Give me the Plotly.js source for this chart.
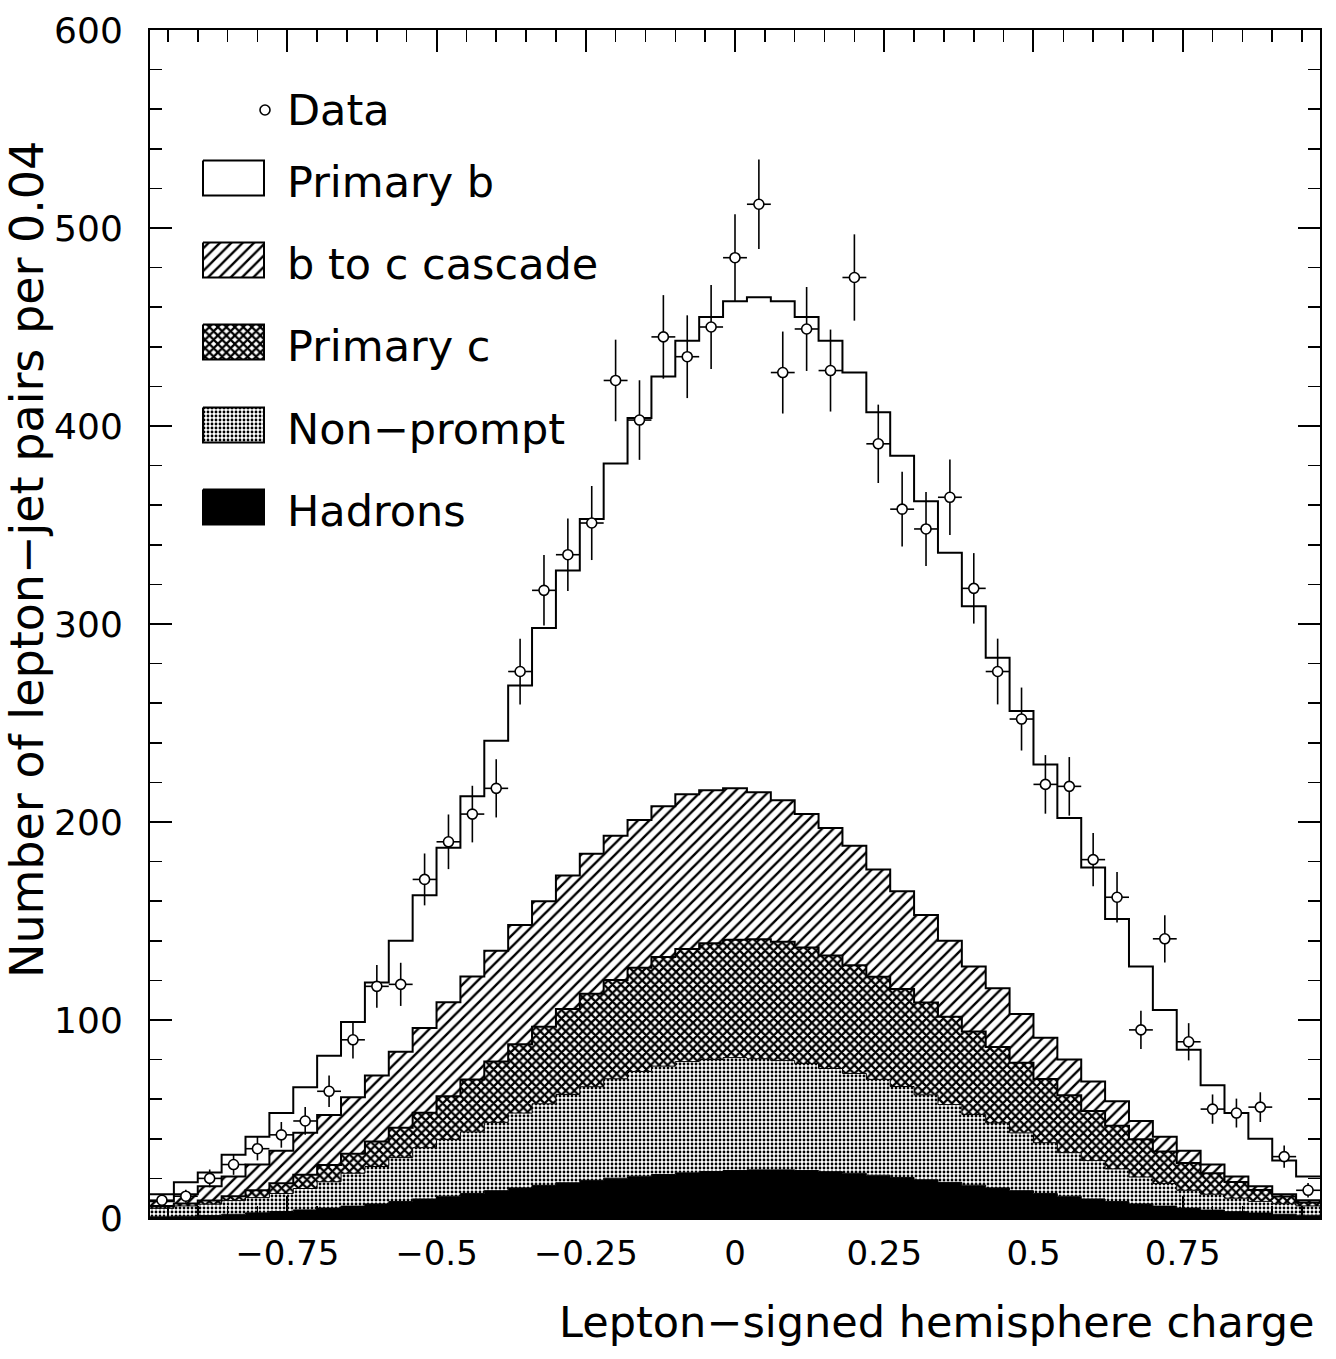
<!DOCTYPE html>
<html><head><meta charset="utf-8">
<script src="https://cdn.plot.ly/plotly-3.0.1.min.js"></script>
<style>html,body{margin:0;padding:0;background:#fff}#chart{width:1336px;height:1359px}</style>
</head><body><div id="chart"></div>
<script>
// ---- data ----
const binCenter = [-0.96,-0.92,-0.88,-0.84,-0.80,-0.76,-0.72,-0.68,-0.64,-0.60,-0.56,-0.52,-0.48,-0.44,-0.40,-0.36,-0.32,-0.28,-0.24,-0.20,-0.16,-0.12,-0.08,-0.04,0.00,0.04,0.08,0.12,0.16,0.20,0.24,0.28,0.32,0.36,0.40,0.44,0.48,0.52,0.56,0.60,0.64,0.68,0.72,0.76,0.80,0.84,0.88,0.92,0.96];
const binWidth = 0.04;
const hadrons   = [0.6,0.9,1.3,1.9,2.6,3.3,4.1,5.0,6.0,7.1,8.3,9.6,11.0,12.4,13.8,15.2,16.5,17.8,19.0,20.1,21.1,22.0,22.8,23.5,24.0,24.3,24.3,24.0,23.4,22.6,21.6,20.5,19.3,18.0,16.6,15.2,13.8,12.4,11.0,9.6,8.3,7.1,6.0,5.0,4.0,3.2,2.5,1.9,1.4];
const nonPrompt = [4.3,5.2,5.7,6.9,7.7,9.1,10.8,13.3,16.6,18.9,22.2,25.9,28.7,31.1,34.5,37.8,41.2,44.6,47.3,50.2,52.9,54.7,56.2,56.5,57.0,56.1,55.2,54.0,52.1,50.4,48.4,45.9,42.9,39.3,35.7,32.8,29.2,25.6,22.0,19.4,16.5,13.6,11.4,9.0,8.0,6.8,5.9,5.3,4.7];
const primaryC  = [1.1,1.2,1.8,2.2,3.7,5.1,6.9,8.5,9.8,12.6,15.1,17.7,21.8,26.5,30.7,34.8,38.9,43.1,47.0,49.9,52.4,55.1,56.8,58.8,59.5,60.4,60.0,58.6,57.1,54.6,51.8,49.2,46.6,44.3,41.9,38.4,35.4,32.2,29.0,25.0,21.8,19.1,16.2,13.8,10.6,8.2,5.8,3.6,1.7];
const cascade   = [2.5,4.7,7.2,10.0,13.0,16.5,21.2,25.2,28.6,33.4,38.4,42.8,47.5,52.0,56.0,60.2,63.4,67.5,70.7,72.8,74.6,76.2,78.2,77.2,76.5,74.2,71.5,67.4,64.4,60.4,54.2,49.4,44.2,38.4,32.8,29.6,24.6,20.8,18.0,15.0,12.4,9.2,7.4,6.2,4.4,2.8,1.8,1.2,1.2];
const primaryB  = [3.5,6,7,11,14,19,23,30,38,47,56,67,78,91,106,121,138,154,169,188,203,217,229,239,246,250,252,251,246,239,231,220,209,196,182,167,153,138,122,108,92,78,64,51,40,32,24,17,12];
const dataCounts = [9,11,20,27,35,42,49,64,90,117,118,171,190,204,217,276,317,335,351,423,403,445,435,450,485,512,427,449,428,475,391,358,348,364,318,276,252,219,218,181,162,95,141,89,55,53,56,31,14];
const dataErrors = [3,3.3,4.5,5.2,5.9,6.5,7,8,9.5,10.8,10.9,13.1,13.8,14.3,14.7,16.6,17.8,18.3,18.7,20.6,20.1,21.1,20.9,21.2,22,22.6,20.7,21.2,20.7,21.8,19.8,18.9,18.7,19.1,17.8,16.6,15.9,14.8,14.8,13.5,12.7,9.7,11.9,9.4,7.4,7.3,7.5,5.6,3.7];
const xTickVals = [-0.75,-0.5,-0.25,0,0.25,0.5,0.75];
const xTickText = ['\u22120.75','\u22120.5','\u22120.25','0','0.25','0.5','0.75'];
const yTickVals = [0,100,200,300,400,500,600];
const yTickText = ['0','100','200','300','400','500','600'];
const legendLabels = ['Data','Primary b','b to c cascade','Primary c','Non\u2212prompt','Hadrons'];

// ---- derived ----
const layers = [hadrons, nonPrompt, primaryC, cascade, primaryB];
const tops = [];
let run = binCenter.map(()=>0);
layers.forEach(l => { run = run.map((v,i)=>v+l[i]); tops.push(run.slice()); });
const edges = binCenter.map(c=>c-binWidth/2).concat([binCenter[binCenter.length-1]+binWidth/2]);
const stepY = v => v.concat([v[v.length-1]]);

const F = 'DejaVu Sans, Verdana, sans-serif';
const styles = [
  {fill:'tozeroy', fillcolor:'black', lw:1},
  {fill:'tonexty', fillcolor:'white', pattern:{shape:'.', size:4, solidity:0.4, fgcolor:'black', bgcolor:'white'}, lw:1},
  {fill:'tonexty', fillcolor:'white', pattern:{shape:'x', size:6, solidity:0.6, fgcolor:'black', bgcolor:'white'}, lw:2},
  {fill:'tonexty', fillcolor:'white', pattern:{shape:'/', size:8, solidity:0.3, fgcolor:'black', bgcolor:'white'}, lw:2},
  {fill:'tonexty', fillcolor:'white', lw:2}
];
const traces = [];
tops.forEach((t,k)=>{
  const s = styles[k];
  const tr = {type:'scatter', mode:'lines', x:edges, y:stepY(t), line:{shape:'hv', color:'black', width:s.lw},
    fill:s.fill, fillcolor:s.fillcolor, hoverinfo:'skip', showlegend:false};
  if(s.pattern) tr.fillpattern = s.pattern;
  traces.push(tr);
});
traces.push({type:'scatter', mode:'markers', x:binCenter, y:dataCounts, showlegend:false,
  marker:{symbol:'circle', size:10, color:'white', line:{color:'black', width:1.6}},
  error_y:{type:'data', array:dataErrors, visible:true, color:'black', thickness:1.6, width:0},
  error_x:{type:'constant', value:binWidth/2, visible:true, color:'black', thickness:1.6, width:0}});

// ---- hand-drawn legend on a pixel overlay axis ----
const legRowY = [110, 178, 260, 342, 425, 507];
const boxX0 = 203, boxX1 = 264, boxH = 35, textX = 285;
traces.push({type:'scatter', mode:'markers', xaxis:'x2', yaxis:'y2', x:[265], y:[legRowY[0]], showlegend:false, hoverinfo:'skip',
  marker:{symbol:'circle', size:10, color:'white', line:{color:'black', width:1.6}}});
for(let k=1;k<6;k++){
  const s = styles[5-k];
  const y0 = legRowY[k]-boxH/2, y1 = legRowY[k]+boxH/2;
  const tr = {type:'scatter', mode:'lines', xaxis:'x2', yaxis:'y2', x:[boxX0,boxX1,boxX1,boxX0,boxX0], y:[y0,y0,y1,y1,y0],
    fill:'toself', fillcolor:s.fillcolor, line:{color:'black', width:2}, showlegend:false, hoverinfo:'skip'};
  if(s.pattern) tr.fillpattern = s.pattern;
  traces.push(tr);
}
const annotations = legendLabels.map((lab,k)=>({xref:'x2', yref:'y2', x:textX, y:legRowY[k], yshift:k===0?0:-4, text:lab, showarrow:false,
  xanchor:'left', yanchor:'middle', font:{family:F, size:43, color:'black'}}));
annotations.push({xref:'paper', yref:'paper', x:(27-150)/1170, y:(1218-560)/1188, text:'Number of lepton\u2212jet pairs per 0.04',
  textangle:-90, showarrow:false, xanchor:'center', yanchor:'middle', font:{family:F, size:46, color:'black'}});
annotations.push({xref:'paper', yref:'paper', x:(1316-150)/1170, y:(1218-1322)/1188, text:'Lepton\u2212signed hemisphere charge',
  showarrow:false, xanchor:'right', yanchor:'middle', font:{family:F, size:43, color:'black'}});

const axCommon = {showline:true, linecolor:'black', linewidth:2, mirror:'ticks', ticks:'inside', ticklen:22, tickwidth:2,
  tickcolor:'black', showgrid:false, zeroline:false, tickfont:{family:F, size:36, color:'black'}};
const layout = {
  width:1336, height:1359, margin:{l:150, r:16, t:30, b:141},
  paper_bgcolor:'white', plot_bgcolor:'white', showlegend:false,
  xaxis:Object.assign({}, axCommon, {range:[-0.98,0.98], tickmode:'array', tickvals:xTickVals, ticktext:xTickText, ticklabelstandoff:4,
    tickfont:{family:F, size:34, color:'black'},
    minor:{tickmode:'linear', tick0:0, dtick:0.05, ticks:'inside', ticklen:12, tickwidth:1.5, tickcolor:'black'}}),
  yaxis:Object.assign({}, axCommon, {range:[0,600], tickmode:'array', tickvals:yTickVals, ticktext:yTickText, ticklabelstandoff:18,
    minor:{tickmode:'linear', tick0:0, dtick:20, ticks:'inside', ticklen:12, tickwidth:1.5, tickcolor:'black'}}),
  xaxis2:{overlaying:'x', range:[150,1320], visible:false, fixedrange:true},
  yaxis2:{overlaying:'y', range:[1218,30], visible:false, fixedrange:true},
  annotations:annotations
};
Plotly.newPlot('chart', traces, layout, {staticPlot:true, displayModeBar:false});
</script></body></html>
